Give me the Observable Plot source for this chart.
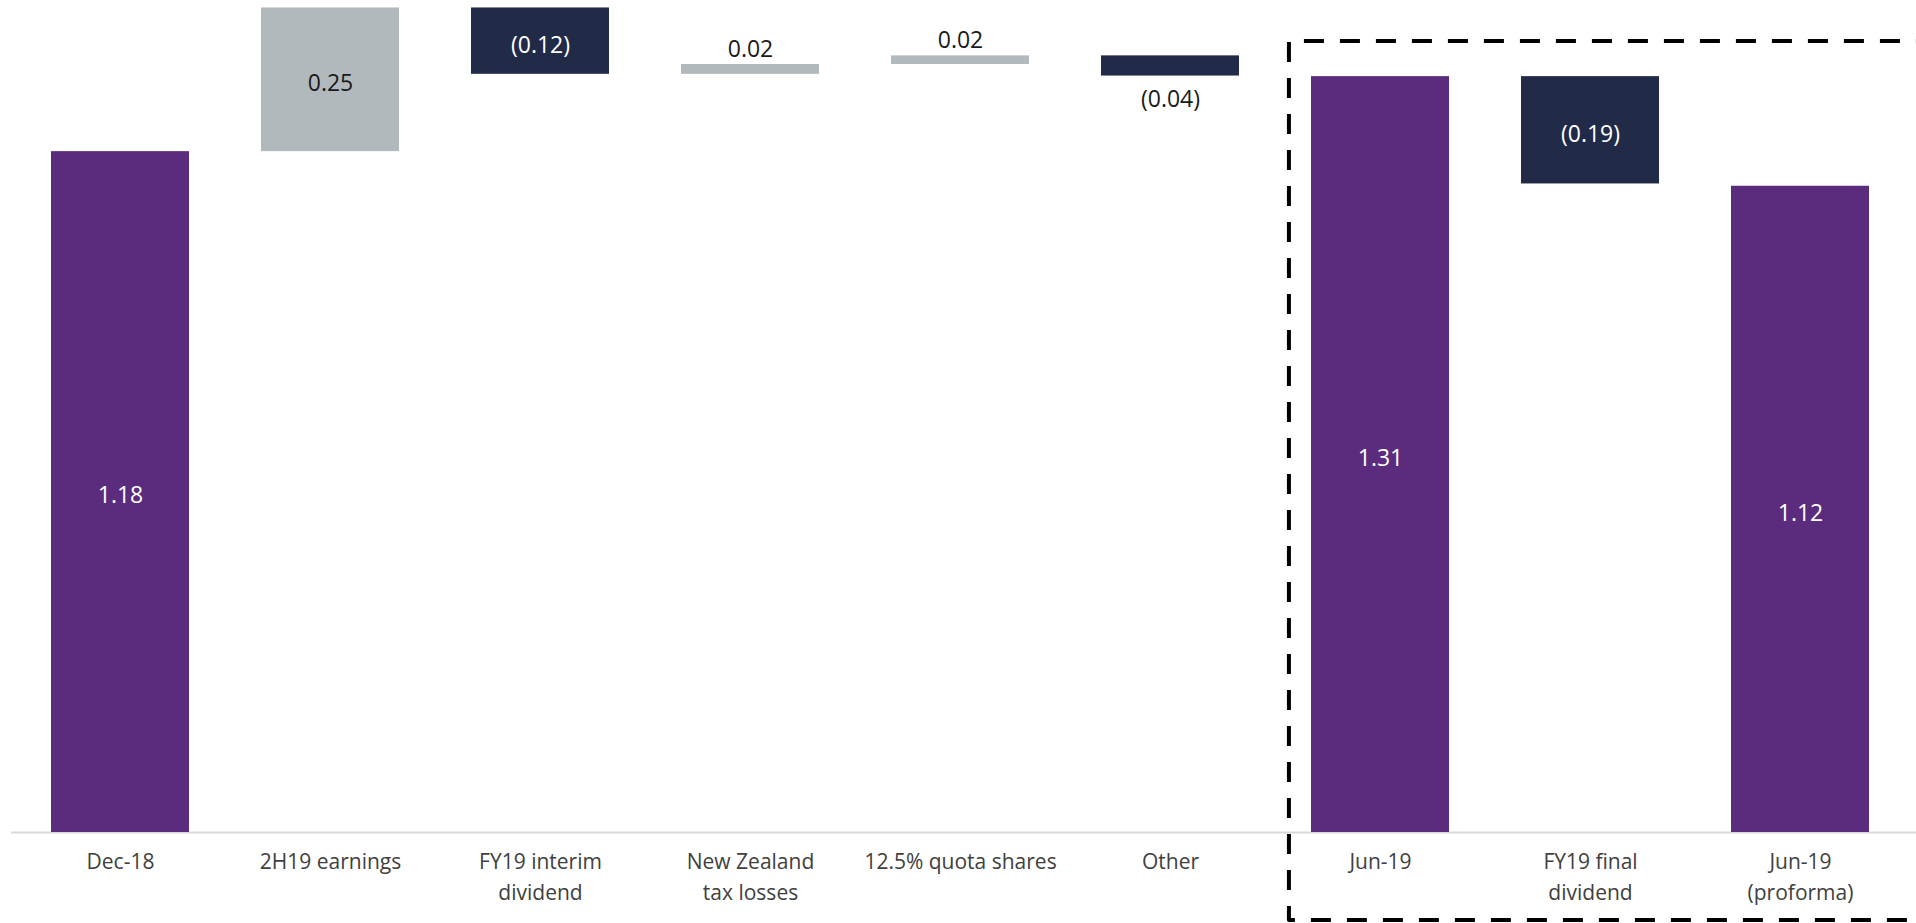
<!DOCTYPE html>
<html><head><meta charset="utf-8">
<script src="https://cdn.jsdelivr.net/npm/d3@7"></script>
<script src="https://cdn.jsdelivr.net/npm/@observablehq/plot@0.6"></script>
<style>
html,body{margin:0;padding:0;background:#fff;}
#chart{width:1916px;height:923px;overflow:hidden;}
</style>
</head><body><div id="chart"></div>
<script>
// ---- data ----
const categories = ["Dec-18","2H19 earnings","FY19 interim dividend","New Zealand tax losses","12.5% quota shares","Other","Jun-19","FY19 final dividend","Jun-19 (proforma)"];
const tickLabels = ["Dec-18","2H19 earnings","FY19 interim\ndividend","New Zealand\ntax losses","12.5% quota shares","Other","Jun-19","FY19 final\ndividend","Jun-19\n(proforma)"];
const kinds = ["total","increase","decrease","increase","increase","decrease","total","decrease","total"];
const values = [1.18, 0.249, -0.115, 0.017, 0.015, -0.035, 1.31, -0.186, 1.12];
const valueLabels = ["1.18","0.25","(0.12)","0.02","0.02","(0.04)","1.31","(0.19)","1.12"];

// ---- build waterfall table ----
let running = 0;
const rows = categories.map((cat, i) => {
  const v = values[i];
  let y1, y2;
  if (kinds[i] === "total") { y1 = 0; y2 = v; running = v; }
  else { y1 = running; y2 = running + v; running += v; }
  return {cat, kind: kinds[i], y1, y2, lo: Math.min(y1, y2), hi: Math.max(y1, y2),
          label: valueLabels[i], small: kinds[i] !== "total" && Math.abs(v) < 0.05};
});

const colors = {total: "#5B2C7E", increase: "#B2B9BC", decrease: "#212A47"};
const W = 1916, H = 923;

const chart = Plot.plot({
  width: W,
  height: H,
  marginTop: 0,
  marginBottom: 91,
  marginLeft: 11,
  marginRight: 0,
  style: {fontFamily: "'Open Sans', sans-serif", background: "#fff", overflow: "visible"},
  x: {domain: categories, range: [11, 1908], paddingInner: 0.345, paddingOuter: 0.1725, axis: null},
  y: {domain: [0, 832 / 577], axis: null},
  marks: [
    Plot.ruleY([0], {stroke: "#d9d9d9", strokeWidth: 2}),
    Plot.barY(rows, {x: "cat", y1: "y1", y2: "y2", fill: d => colors[d.kind]}),
    Plot.text(rows.filter(d => !d.small), {
      x: "cat", y: d => (d.y1 + d.y2) / 2, text: "label",
      fill: d => d.kind === "increase" ? "#1a1a1a" : "#ffffff",
      fontSize: 23, dy: 4
    }),
    Plot.text(rows.filter(d => d.small && d.y2 >= d.y1), {
      x: "cat", y: "hi", text: "label", fill: "#1a1a1a", fontSize: 23, dy: -15
    }),
    Plot.text(rows.filter(d => d.small && d.y2 < d.y1), {
      x: "cat", y: "lo", text: "label", fill: "#1a1a1a", fontSize: 23, dy: 24
    }),
    Plot.axisX({
      domain: categories, tickSize: 0, tickPadding: 15, label: null,
      tickFormat: d => tickLabels[categories.indexOf(d)],
      fontSize: 21, lineHeight: 1.45, fill: "#404040"
    })
  ]
});
document.getElementById("chart").appendChild(chart);

// ---- dashed highlight box around the Jun-19 block ----
const xs = chart.scale("x");
const bw = xs.bandwidth;
const boxLeft = xs.apply("Jun-19") - bw * 0.16;
const boxTop = 41, boxBottom = 920, boxRight = W + 10;
const period = 36;
const leg1 = boxRight - boxLeft, leg2 = boxBottom - boxTop;
const dashOffset = ((6 - leg1) % period + period) % period;
d3.select(chart).append("path")
  .attr("d", `M${boxRight},${boxBottom}H${boxLeft}V${boxTop}H${boxRight}`)
  .attr("fill", "none")
  .attr("stroke", "#000")
  .attr("stroke-width", 4)
  .attr("stroke-dasharray", "20,16")
  .attr("stroke-dashoffset", dashOffset)
  .attr("stroke-linejoin", "round");
</script>
</body></html>
